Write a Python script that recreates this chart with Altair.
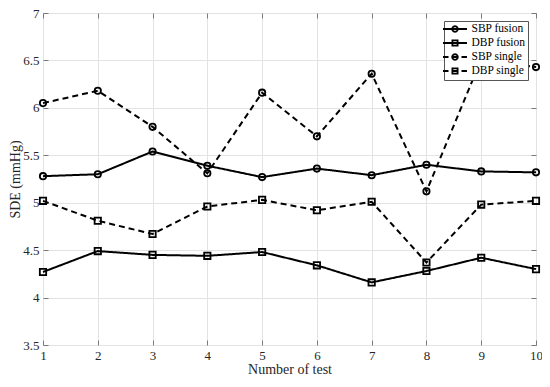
import math
import altair as alt
import pandas as pd

tests = list(range(1, 11))
sbp_fusion = [5.28, 5.30, 5.54, 5.39, 5.27, 5.36, 5.29, 5.40, 5.33, 5.32]
dbp_fusion = [4.27, 4.49, 4.45, 4.44, 4.48, 4.34, 4.16, 4.28, 4.42, 4.30]
sbp_single = [6.05, 6.18, 5.80, 5.31, 6.16, 5.70, 6.36, 5.12, 6.51, 6.43]
dbp_single = [5.02, 4.81, 4.67, 4.96, 5.03, 4.92, 5.01, 4.37, 4.98, 5.02]
series_names = ["SBP fusion", "DBP fusion", "SBP single", "DBP single"]
y_ticks = [3.5, 4, 4.5, 5, 5.5, 6, 6.5, 7]

rows = []
for name, vals in zip(series_names, [sbp_fusion, dbp_fusion, sbp_single, dbp_single]):
    for t, v in zip(tests, vals):
        rows.append({"test": t, "value": v, "series": name})
df = pd.DataFrame(rows)

FONT = "Liberation Serif"
AX = "#7a7a7a"

# legend symbols: line + marker glyphs (unit = sqrt(size)/2 px)
def circ(r=0.56, n=24):
    pts = [(r * math.cos(2 * math.pi * k / n), r * math.sin(2 * math.pi * k / n)) for k in range(n)]
    return "M" + " L".join(f"{x:.3f},{y:.3f}" for x, y in pts) + " Z"

def sq(h=0.52):
    return f"M{-h},{-h} L{h},{-h} L{h},{h} L{-h},{h} Z"

solid = "M-2.4,0 L2.4,0 "
dashed = "M-2.4,0 L-1.3,0 M-0.56,0 L0.56,0 M1.3,0 L2.4,0 "
legend_paths = [solid + circ(), solid + sq(), dashed + circ(), dashed + sq()]

base = alt.Chart(df)

x_scale = alt.Scale(domain=[1, 10], nice=False, zero=False)
y_scale = alt.Scale(domain=[3.5, 7], nice=False, zero=False)

lines = base.mark_line(color="black", strokeWidth=2).encode(
    x=alt.X("test:Q", scale=x_scale, axis=alt.Axis(
        values=tests, format="d", title="Number of test", orient="bottom",
        grid=True, gridColor="#e3e3e3", domain=False, offset=-5, tickSize=5,
        tickColor=AX, labelPadding=4, labelFont=FONT, labelFontSize=13,
        labelColor="#262626", titleFont=FONT, titleFontSize=14,
        titleFontWeight="normal", titleColor="#262626", titlePadding=0,
        labelFlush=False)),
    y=alt.Y("value:Q", scale=y_scale, axis=alt.Axis(
        values=y_ticks, format="~g", title="SDE (mmHg)", orient="left",
        grid=True, gridColor="#e3e3e3", domain=False, offset=-5, tickSize=5,
        tickColor=AX, labelPadding=4, labelFont=FONT, labelFontSize=13,
        labelColor="#262626", titleFont=FONT, titleFontSize=14,
        titleFontWeight="normal", titleColor="#262626", titlePadding=0,
        labelFlush=False)),
    strokeDash=alt.StrokeDash("series:N", scale=alt.Scale(
        domain=series_names, range=[[1, 0], [1, 0], [6, 4], [6, 4]]), legend=None),
    detail="series:N",
)

points = base.mark_point(filled=False, color="black", strokeWidth=1.8, size=40, opacity=1).encode(
    x=alt.X("test:Q", scale=x_scale, axis=alt.Axis(
        values=tests, orient="top", labels=False, title=None, grid=False,
        domain=False, offset=-5, tickSize=5, tickColor=AX)),
    y=alt.Y("value:Q", scale=y_scale, axis=alt.Axis(
        values=y_ticks, orient="right", labels=False, title=None, grid=False,
        domain=False, offset=-5, tickSize=5, tickColor=AX)),
    shape=alt.Shape("series:N", scale=alt.Scale(
        domain=series_names, range=["circle", "square", "circle", "square"]), legend=None),
)

legend_layer = base.transform_filter("false").mark_point(
    filled=False, color="black", strokeWidth=1.8, opacity=1).encode(
    x=alt.X("test:Q", scale=x_scale, axis=None),
    y=alt.Y("value:Q", scale=y_scale, axis=None),
    shape=alt.Shape("series:N", scale=alt.Scale(domain=series_names, range=legend_paths),
                    legend=alt.Legend(
                        title=None, orient="top-right", offset=8,
                        fillColor="white", strokeColor="#555555", padding=2,
                        symbolSize=100, symbolStrokeWidth=1.8,
                        symbolStrokeColor="black", symbolOffset=3,
                        labelFont=FONT, labelFontSize=11.5, labelColor="black",
                        labelOffset=10.5, rowPadding=0)),
)

chart = alt.layer(lines, points, legend_layer).resolve_scale(
    shape="independent", strokeDash="independent"
).resolve_axis(x="independent", y="independent").properties(
    width=493, height=332,
    autosize=alt.AutoSizeParams(type="none"),
    padding={"left": 35, "top": 5, "right": 6, "bottom": 30},
).configure(font=FONT).configure_view(stroke=AX, strokeWidth=1)

chart.save("out.html", embed_options={"renderer": "svg", "actions": False})
